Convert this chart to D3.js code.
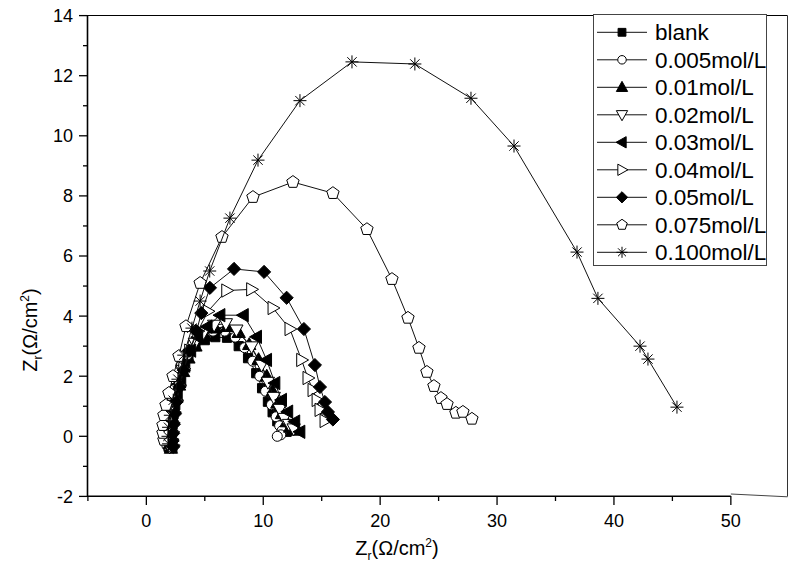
<!DOCTYPE html>
<html><head><meta charset="utf-8">
<script src="https://cdn.jsdelivr.net/npm/d3@7"></script>
<style>body{margin:0;background:#fff}svg{display:block;font-family:"Liberation Sans",Arial,sans-serif}</style>
</head><body>
<svg id="c" width="788" height="577"></svg>
<script>
const seriesNames = ["blank","0.005mol/L","0.01mol/L","0.02mol/L","0.03mol/L","0.04mol/L","0.05mol/L","0.075mol/L","0.100mol/L"];
const seriesMarkers = ["square","circle","triUp","triDown","triLeft","triRight","diamond","pentagon","star"];
const seriesFilled = [true,false,true,false,true,false,true,false,false];

const blank = [[1.9,-0.35],[1.85,-0.25],[1.85,-0.1],[1.9,0.05],[1.95,0.25],[2.0,0.45],[2.1,0.7],[2.2,0.95],[2.35,1.25],[2.55,1.6],[2.8,1.95],[3.15,2.35],[3.6,2.7],[4.2,3.0],[5.0,3.2],[5.9,3.3],[6.9,3.28],[7.9,3.0],[8.7,2.6],[9.4,2.1],[9.9,1.6],[10.4,1.15],[10.8,0.8],[11.2,0.5],[11.6,0.3],[12.0,0.15]];
const c0005 = [[1.75,-0.3],[1.7,-0.15],[1.7,0.0],[1.75,0.2],[1.8,0.4],[1.9,0.65],[2.0,0.9],[2.15,1.2],[2.35,1.55],[2.6,1.95],[2.95,2.35],[3.4,2.75],[4.0,3.1],[4.8,3.35],[5.7,3.5],[6.7,3.5],[7.6,3.3],[8.4,2.95],[9.1,2.5],[9.7,2.0],[10.2,1.5],[10.7,1.05],[11.1,0.65],[11.4,0.35],[11.6,0.18],[11.5,0.05],[11.2,0.0]];
const c001 = [[2.1,-0.4],[2.0,-0.25],[2.0,-0.05],[2.05,0.15],[2.1,0.4],[2.2,0.65],[2.35,0.95],[2.55,1.3],[2.8,1.7],[3.15,2.15],[3.6,2.6],[4.2,3.0],[5.0,3.35],[5.9,3.6],[6.9,3.65],[7.9,3.45],[8.8,3.05],[9.6,2.55],[10.3,2.0],[10.8,1.5],[11.2,1.1],[11.6,0.75],[12.0,0.48],[12.3,0.3],[12.6,0.2]];
const c002 = [[2.0,-0.35],[1.95,-0.2],[1.95,0.0],[2.0,0.2],[2.05,0.45],[2.15,0.7],[2.3,1.0],[2.5,1.35],[2.75,1.75],[3.1,2.2],[3.55,2.65],[4.15,3.1],[4.9,3.45],[5.8,3.7],[6.8,3.75],[7.7,3.54],[9.0,2.98],[9.86,2.37],[10.4,1.8],[10.9,1.3],[11.4,0.9],[11.8,0.6],[12.2,0.4],[12.6,0.25]];
const c003 = [[2.2,-0.3],[2.1,-0.15],[2.1,0.05],[2.15,0.25],[2.2,0.5],[2.3,0.8],[2.45,1.1],[2.65,1.45],[2.95,1.9],[3.3,2.35],[3.8,2.85],[4.4,3.3],[5.2,3.65],[6.3,4.03],[8.3,4.03],[9.43,3.31],[10.29,2.54],[11.0,1.77],[11.57,1.21],[12.1,0.82],[12.7,0.49],[13.14,0.15]];
const c004 = [[2.3,-0.3],[2.2,-0.1],[2.25,0.15],[2.3,0.45],[2.4,0.8],[2.6,1.2],[2.85,1.7],[3.2,2.25],[3.7,2.85],[4.4,3.5],[5.27,4.16],[6.87,4.85],[9.0,4.89],[10.83,4.27],[12.28,3.57],[13.28,2.54],[13.82,1.94],[14.25,1.54],[14.6,1.21],[14.85,0.88],[15.28,0.51]];
const c005 = [[2.3,-0.35],[2.25,-0.15],[2.3,0.1],[2.35,0.4],[2.45,0.75],[2.6,1.15],[2.85,1.65],[3.2,2.2],[3.7,2.85],[4.3,3.5],[4.7,4.1],[5.44,4.94],[7.5,5.57],[10.07,5.47],[12.0,4.61],[13.48,3.57],[14.42,2.37],[14.85,1.64],[15.28,1.14],[15.53,0.81],[15.96,0.56]];
const c0075 = [[1.5,-0.12],[1.42,0.11],[1.42,0.37],[1.5,0.7],[1.68,1.04],[1.93,1.44],[2.28,2.0],[2.79,2.67],[3.39,3.66],[4.6,5.1],[6.47,6.63],[9.12,7.96],[12.54,8.46],[15.96,8.09],[18.87,6.89],[21.01,5.23],[22.38,3.94],[23.32,2.94],[24.0,2.14],[24.6,1.67],[25.2,1.27],[25.72,1.07],[26.48,0.78],[27.08,0.81],[27.85,0.58]];
const c0100 = [[1.9,-0.25],[1.85,0.0],[1.9,0.3],[2.05,0.7],[2.3,1.2],[2.7,1.9],[3.2,2.7],[3.9,3.6],[4.6,4.5],[5.42,5.5],[7.15,7.26],[9.55,9.19],[13.14,11.17],[17.59,12.46],[22.97,12.39],[27.77,11.25],[31.45,9.66],[36.84,6.13],[38.63,4.59],[42.23,3.0],[42.91,2.57],[45.39,0.97]];
const seriesData = [blank,c0005,c001,c002,c003,c004,c005,c0075,c0100];

const xMajorTicks = [0,10,20,30,40,50];
const xMinorTicks = [-5,5,15,25,35,45];
const yMajorTicks = [-2,0,2,4,6,8,10,12,14];
const yMinorTicks = [-1,1,3,5,7,9,11,13];

const svg = d3.select("#c");
const x = d3.scaleLinear().domain([-5,55]).range([87.9,789.3]);
const y = d3.scaleLinear().domain([-2,14]).range([496.4,15.6]);

function markerPath(type, s){
  const p = d3.path();
  if(type==="square"){ const r=4.6*s; p.rect(-r,-r,2*r,2*r); return p.toString(); }
  if(type==="circle"){ const r=5*s; p.moveTo(r,0); p.arc(0,0,r,0,2*Math.PI); p.closePath(); return p.toString(); }
  if(type.startsWith("tri")){
    const r=7*s;
    let pts=[[0,-r],[r*0.95,r*0.7],[-r*0.95,r*0.7]];
    const ang={triUp:0,triDown:180,triLeft:-90,triRight:90}[type]*Math.PI/180;
    pts=pts.map(([a,b])=>[a*Math.cos(ang)-b*Math.sin(ang), a*Math.sin(ang)+b*Math.cos(ang)]);
    p.moveTo(pts[0][0],pts[0][1]); p.lineTo(pts[1][0],pts[1][1]); p.lineTo(pts[2][0],pts[2][1]); p.closePath(); return p.toString();
  }
  if(type==="diamond"){ const r=6.6*s; p.moveTo(0,-r); p.lineTo(r,0); p.lineTo(0,r); p.lineTo(-r,0); p.closePath(); return p.toString(); }
  if(type==="pentagon"){ const r=6.5*s; for(let i=0;i<5;i++){const a=-Math.PI/2+i*2*Math.PI/5; const px=r*Math.cos(a), py=r*Math.sin(a); if(i===0)p.moveTo(px,py); else p.lineTo(px,py);} p.closePath(); return p.toString(); }
  if(type==="star"){ const r=6.5*s; const d=r*0.72; p.moveTo(0,-r); p.lineTo(0,r); p.moveTo(-r,0); p.lineTo(r,0); p.moveTo(-d,-d); p.lineTo(d,d); p.moveTo(-d,d); p.lineTo(d,-d); return p.toString(); }
}

// frame top and right
svg.append("line").attr("x1",87.5).attr("x2",787.5).attr("y1",15.5).attr("y2",15.5).attr("stroke","#000").attr("stroke-width",1);
svg.append("line").attr("x1",787.5).attr("x2",787.5).attr("y1",15.5).attr("y2",496.5).attr("stroke","#333").attr("stroke-width",1);
svg.append("line").attr("x1",x(50)).attr("x2",787.5).attr("y1",494).attr("y2",496.8).attr("stroke","#444").attr("stroke-width",1);

// data
const line = d3.line().x(d=>x(d[0])).y(d=>y(d[1]));
const plot = svg.append("g");
seriesData.forEach((data,i)=>{
  const g = plot.append("g");
  g.append("path").attr("d",line(data)).attr("fill","none").attr("stroke","#111").attr("stroke-width",1);
  const mp = markerPath(seriesMarkers[i],1);
  g.selectAll("path.m").data(data).join("path").attr("class","m")
    .attr("d",mp).attr("transform",d=>`translate(${x(d[0])},${y(d[1])})`)
    .attr("fill",seriesMarkers[i]==="star"?"none":(seriesFilled[i]?"#000":"#fff"))
    .attr("stroke","#000").attr("stroke-width",1);
});

// axes
const ax = svg.append("g").attr("stroke","#000");
ax.append("line").attr("x1",87.5).attr("x2",87.5).attr("y1",15).attr("y2",497).attr("stroke-width",1.6);
ax.append("line").attr("x1",87).attr("x2",x(50)).attr("y1",496.2).attr("y2",496.2).attr("stroke-width",1.6);
yMajorTicks.forEach(t=>ax.append("line").attr("x1",79).attr("x2",87.5).attr("y1",y(t)).attr("y2",y(t)).attr("stroke-width",1.3));
yMinorTicks.forEach(t=>ax.append("line").attr("x1",83).attr("x2",87.5).attr("y1",y(t)).attr("y2",y(t)).attr("stroke-width",1.3));
xMajorTicks.forEach(t=>ax.append("line").attr("x1",x(t)).attr("x2",x(t)).attr("y1",496).attr("y2",505).attr("stroke-width",1.3));
xMinorTicks.forEach(t=>ax.append("line").attr("x1",x(t)).attr("x2",x(t)).attr("y1",496).attr("y2",501).attr("stroke-width",1.3));

svg.append("g").selectAll("text").data(yMajorTicks).join("text")
  .attr("x",73).attr("y",d=>y(d)).attr("dy","0.36em").attr("text-anchor","end")
  .attr("font-size",18).text(d=>d);
svg.append("g").selectAll("text").data(xMajorTicks).join("text")
  .attr("x",d=>x(d)).attr("y",527).attr("text-anchor","middle")
  .attr("font-size",18).text(d=>d);

// axis titles
const xt = svg.append("text").attr("x",397).attr("y",555).attr("text-anchor","middle").attr("font-size",20);
xt.append("tspan").text("Z");
xt.append("tspan").attr("font-size",12).attr("dy",5).text("r");
xt.append("tspan").attr("dy",-5).text("(Ω/cm");
xt.append("tspan").attr("font-size",12).attr("dy",-8).text("2");
xt.append("tspan").attr("dy",8).text(")");
const yt = svg.append("text").attr("transform","translate(37,330) rotate(-90)").attr("text-anchor","middle").attr("font-size",20);
yt.append("tspan").text("Z");
yt.append("tspan").attr("font-size",12).attr("dy",5).text("r");
yt.append("tspan").attr("dy",-5).text("(Ω/cm");
yt.append("tspan").attr("font-size",12).attr("dy",-8).text("2");
yt.append("tspan").attr("dy",8).text(")");

// legend
const lg = svg.append("g");
lg.append("rect").attr("x",593.5).attr("y",14.5).attr("width",173).attr("height",251).attr("fill","#fff").attr("stroke","#444").attr("stroke-width",1);
seriesNames.forEach((name,i)=>{
  const cy = 32.3 + i*27.5;
  lg.append("line").attr("x1",597).attr("x2",647).attr("y1",cy).attr("y2",cy).attr("stroke","#111").attr("stroke-width",1);
  lg.append("path").attr("d",markerPath(seriesMarkers[i],0.85)).attr("transform",`translate(622,${cy})`)
    .attr("fill",seriesMarkers[i]==="star"?"none":(seriesFilled[i]?"#000":"#fff")).attr("stroke","#000").attr("stroke-width",1);
  lg.append("text").attr("x",655).attr("y",cy).attr("dy","0.36em").attr("font-size",22.5).text(name);
});
</script>
</body></html>
